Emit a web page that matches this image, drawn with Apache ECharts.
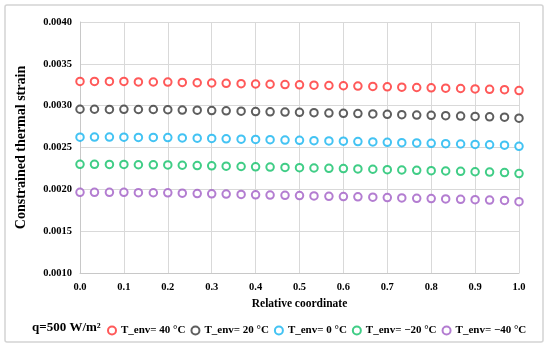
<!DOCTYPE html>
<html>
<head>
<meta charset="utf-8">
<script src="https://cdn.jsdelivr.net/npm/echarts@6/dist/echarts.min.js"></script>
<style>html,body{margin:0;padding:0;background:#fff}#c{width:550px;height:349px}</style>
</head>
<body>
<div id="c"></div>
<script>
const xCoord = [0.000,0.033,0.067,0.100,0.133,0.167,0.200,0.233,0.267,0.300,0.333,0.367,0.400,0.433,0.467,0.500,0.533,0.567,0.600,0.633,0.667,0.700,0.733,0.767,0.800,0.833,0.867,0.900,0.933,0.967,1.000];
const seriesNames = ["T_env= 40 \u00b0C","T_env= 20 \u00b0C","T_env= 0 \u00b0C","T_env= \u221220 \u00b0C","T_env= \u221240 \u00b0C"];
const env40 = [0.003290,0.003290,0.003290,0.003290,0.003284,0.003283,0.003282,0.003278,0.003274,0.003271,0.003267,0.003263,0.003259,0.003256,0.003252,0.003249,0.003245,0.003241,0.003238,0.003234,0.003230,0.003225,0.003221,0.003217,0.003213,0.003209,0.003205,0.003200,0.003196,0.003191,0.003180];
const env20 = [0.002957,0.002957,0.002955,0.002956,0.002954,0.002954,0.002952,0.002948,0.002946,0.002942,0.002938,0.002934,0.002930,0.002927,0.002923,0.002920,0.002916,0.002912,0.002909,0.002905,0.002901,0.002896,0.002892,0.002888,0.002884,0.002880,0.002876,0.002871,0.002867,0.002862,0.002850];
const env0 = [0.002624,0.002625,0.002625,0.002624,0.002621,0.002620,0.002619,0.002615,0.002611,0.002608,0.002604,0.002600,0.002596,0.002593,0.002589,0.002586,0.002582,0.002578,0.002575,0.002571,0.002567,0.002562,0.002558,0.002554,0.002550,0.002546,0.002542,0.002537,0.002533,0.002528,0.002514];
const envM20 = [0.002299,0.002299,0.002298,0.002298,0.002294,0.002293,0.002292,0.002288,0.002284,0.002281,0.002277,0.002273,0.002269,0.002266,0.002262,0.002259,0.002255,0.002251,0.002248,0.002244,0.002240,0.002235,0.002231,0.002227,0.002223,0.002219,0.002215,0.002210,0.002206,0.002201,0.002188];
const envM40 = [0.001964,0.001964,0.001964,0.001964,0.001960,0.001959,0.001958,0.001954,0.001950,0.001947,0.001943,0.001939,0.001935,0.001932,0.001928,0.001925,0.001921,0.001917,0.001914,0.001910,0.001906,0.001901,0.001897,0.001893,0.001889,0.001885,0.001881,0.001876,0.001872,0.001867,0.001852];
const colors = ['#ff3030','#363636','#14b4f0','#10c068','#a05cc6'];

const allData = [env40, env20, env0, envM20, envM40];
const font = '"Liberation Serif","Times New Roman",serif';
const chart = echarts.init(document.getElementById('c'), null, {renderer:'canvas'});
chart.setOption({
  animation:false,
  backgroundColor:'#fff',
  textStyle:{fontFamily:font},
  grid:{left:80, right:31, top:22, bottom:76, containLabel:false},
  xAxis:{type:'value', min:0, max:1, interval:0.1,
    name:'Relative coordinate', nameLocation:'middle', nameGap:22,
    nameTextStyle:{fontFamily:font, fontWeight:'bold', fontSize:11.5, color:'#000'},
    axisLine:{lineStyle:{color:'#c8c8c8', width:1}}, axisTick:{show:false},
    axisLabel:{fontFamily:font, fontWeight:'bold', fontSize:10.5, color:'#000', margin:9, formatter:v=>v.toFixed(1)},
    splitLine:{show:true, lineStyle:{color:'#d9d9d9', width:1}}},
  yAxis:{type:'value', min:0.001, max:0.004, interval:0.0005,
    name:'Constrained thermal strain', nameLocation:'middle', nameGap:52,
    nameTextStyle:{fontFamily:font, fontWeight:'bold', fontSize:14, color:'#000'},
    axisLine:{show:true, lineStyle:{color:'#c8c8c8', width:1}}, axisTick:{show:false},
    axisLabel:{fontFamily:font, fontWeight:'bold', fontSize:10.5, color:'#000', margin:8, formatter:v=>v.toFixed(4)},
    splitLine:{show:true, lineStyle:{color:'#d9d9d9', width:1}}},
  legend:{left:102, right:0, top:320, itemGap:5, itemWidth:8, itemHeight:8, icon:'emptyCircle',
    itemStyle:{borderWidth:1.1},
    textStyle:{fontFamily:font, fontWeight:'bold', fontSize:11, color:'#000'},
    data:seriesNames},
  graphic:[
    {type:'rect', shape:{x:5, y:5, width:538, height:337, r:2}, style:{fill:'none', stroke:'#d4d4d4', lineWidth:1.5}, silent:true},
    {type:'text', left:32, top:321, style:{text:'q=500 W/m\u00b2', font:'bold 13px "Liberation Serif", serif', fill:'#000'}}
  ],
  series: allData.map((d,i)=>({
    name:seriesNames[i], type:'scatter', symbol:'emptyCircle', symbolSize:7.5,
    itemStyle:{color:colors[i], borderColor:colors[i], borderWidth:1.3},
    data:xCoord.map((x,j)=>[x,d[j]])
  }))
});
</script>
</body>
</html>
